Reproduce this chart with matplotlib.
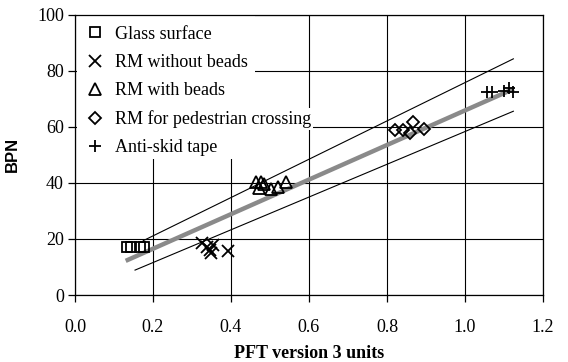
import matplotlib
matplotlib.use("Agg")
import matplotlib.pyplot as plt
from matplotlib.patches import Rectangle

glass_x = [0.133, 0.144, 0.167, 0.177]
glass_y = [17.0, 17.0, 17.0, 17.0]
nobead_x = [0.325, 0.338, 0.346, 0.355, 0.350, 0.393]
nobead_y = [18.5, 17.2, 16.1, 17.9, 14.9, 15.6]
bead_x = [0.465, 0.477, 0.484, 0.472, 0.503, 0.520, 0.540]
bead_y = [40.3, 40.3, 39.6, 38.2, 37.8, 38.4, 40.5]
ped_x = [0.821, 0.842, 0.859, 0.867, 0.895]
ped_y = [58.9, 58.9, 57.8, 61.8, 59.4]
tape_x = [1.057, 1.070, 1.100, 1.112, 1.122]
tape_y = [72.3, 72.3, 72.8, 74.0, 72.6]

# regression line and the two bounds (end points)
fit_x = [0.130, 1.125]
fit_y = [12.2, 73.6]
upper_x = [0.175, 1.124]
upper_y = [19.4, 84.3]
lower_x = [0.154, 1.124]
lower_y = [8.9, 65.6]

x_ticks = [0.0, 0.2, 0.4, 0.6, 0.8, 1.0, 1.2]
y_ticks = [0, 20, 40, 60, 80, 100]

plt.rcParams['font.family'] = ['Liberation Serif', 'DejaVu Serif']

fig = plt.figure(figsize=(5.68, 3.62), dpi=100)
ax = fig.add_axes([0.132, 0.185, 0.824, 0.774])

ax.plot(upper_x, upper_y, '-', color='black', lw=0.8, zorder=2)
ax.plot(lower_x, lower_y, '-', color='black', lw=0.8, zorder=2)
ax.plot(fit_x, fit_y, '-', color='#8a8a8a', lw=3.2, zorder=3,
        solid_capstyle='butt')

mk = dict(ls='none', mfc='none', mec='black', color='black', zorder=4)
ax.plot(glass_x, glass_y, marker='s', ms=7, mew=1.3, label='Glass surface', **mk)
ax.plot(nobead_x, nobead_y, marker='x', ms=8.5, mew=1.3, label='RM without beads', **mk)
ax.plot(bead_x, bead_y, marker='^', ms=8, mew=1.3, label='RM with beads', **mk)
ax.plot(ped_x, ped_y, marker='D', ms=6, mew=1.3, label='RM for pedestrian crossing', **mk)
ax.plot(tape_x, tape_y, marker='+', ms=9, mew=1.3, label='Anti-skid tape', **mk)

ax.set_xlim(0, 1.2)
ax.set_ylim(0, 100)
ax.set_xticks(x_ticks)
ax.set_xticklabels([f'{v:.1f}' for v in x_ticks])
ax.set_yticks(y_ticks)
ax.grid(True, color='black', lw=0.8)
ax.set_axisbelow(True)
for s in ax.spines.values():
    s.set_linewidth(0.9)
ax.tick_params(direction='out', length=5, width=0.9, labelsize=13)
ax.tick_params(axis='x', pad=12)
ax.tick_params(axis='y', pad=3)

ax.set_xlabel('PFT version 3 units', fontsize=13, fontweight='bold', labelpad=7)
ax.set_ylabel('BPN', fontsize=12, fontweight='bold',
              family=['Liberation Sans', 'DejaVu Sans'], labelpad=12)

# legend box is narrower than its longest entry, like the source
ax.add_patch(Rectangle((0.004, 0.487), 0.38, 0.508, transform=ax.transAxes,
                       facecolor='white', edgecolor='none', zorder=1.5))
leg = ax.legend(loc='upper left', fontsize=13, frameon=False,
                handlelength=1.0, handletextpad=0.6, labelspacing=0.62,
                borderpad=0.3, borderaxespad=0.3)
leg.set_zorder(5)
for t in leg.get_texts():
    t.set_bbox(dict(facecolor='white', edgecolor='none', pad=1.5))

fig.savefig('out.png', dpi=100)
